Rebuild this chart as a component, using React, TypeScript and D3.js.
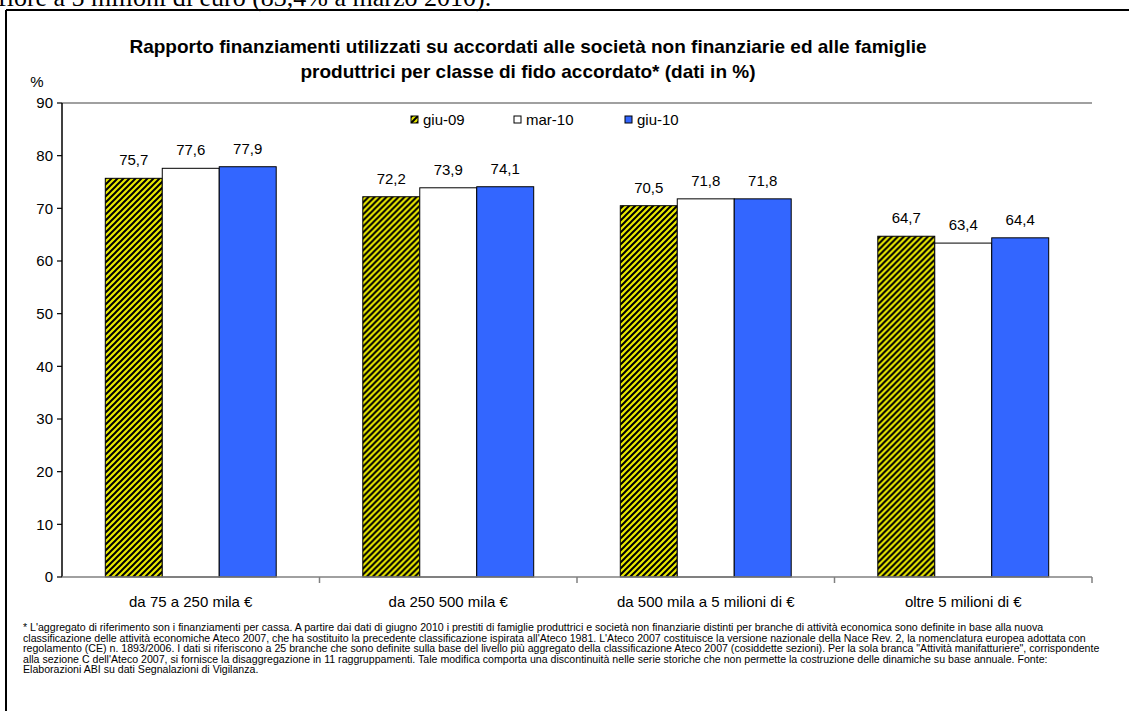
import React from "react";
import * as d3 from "d3";

const categories = [
  "da 75 a 250 mila €",
  "da 250 500 mila €",
  "da 500 mila a 5 milioni di €",
  "oltre 5 milioni di €",
];
const seriesNames = ["giu-09", "mar-10", "giu-10"];
const giu09 = [75.7, 72.2, 70.5, 64.7];
const mar10 = [77.6, 73.9, 71.8, 63.4];
const giu10 = [77.9, 74.1, 71.8, 64.4];
const yTicks = [0, 10, 20, 30, 40, 50, 60, 70, 80, 90];

const titleLines = [
  "Rapporto finanziamenti utilizzati su accordati alle società non finanziarie ed alle famiglie",
  "produttrici per classe di fido accordato* (dati in %)",
];
const topText = "fiore a 5 milioni di euro (83,4% a marzo 2010).";
const footnote = [
  "* L'aggregato di riferimento son i finanziamenti per cassa. A partire dai dati di giugno 2010 i prestiti di famiglie produttrici e società non finanziarie distinti per branche di attività economica sono definite in base alla nuova",
  "classificazione delle attività economiche Ateco 2007, che ha sostituito la precedente classificazione ispirata all'Ateco 1981. L'Ateco 2007 costituisce la versione nazionale della Nace Rev. 2, la nomenclatura europea adottata con",
  "regolamento (CE) n. 1893/2006. I dati si riferiscono a 25 branche che sono definite sulla base del livello più aggregato della classificazione Ateco 2007 (cosiddette sezioni). Per la sola branca \"Attività manifatturiere\", corrispondente",
  "alla sezione C dell'Ateco 2007, si fornisce la disaggregazione in 11 raggruppamenti. Tale modifica comporta una discontinuità nelle serie storiche che non permette la costruzione delle dinamiche su base annuale. Fonte:",
  "Elaborazioni ABI su dati Segnalazioni di Vigilanza.",
];

const seriesValues = [giu09, mar10, giu10];
const fills = ["url(#hatch)", "#ffffff", "#3366ff"];

const W = 1129;
const H = 711;
const plotLeft = 62;
const plotRight = 1092;
const plotTop = 103;
const plotBottom = 577;
const font = "'Liberation Sans', Arial, sans-serif";

export default function App() {
  const x = d3.scaleBand<string>().domain(categories).range([plotLeft, plotRight]);
  const xs = d3
    .scaleBand<string>()
    .domain(seriesNames)
    .range([0, x.bandwidth()])
    .paddingInner(0)
    .paddingOuter(0.76);
  const y = d3.scaleLinear().domain([0, 90]).range([plotBottom, plotTop]);
  const fmt = (v: number) => d3.format(".1f")(v).replace(".", ",");

  const legendX = [411, 514, 625];

  return (
    <svg
      width={W}
      height={H}
      style={{ position: "absolute", left: 0, top: 0, background: "#fff" }}
      fontFamily={font}
    >
      <defs>
        <pattern id="hatch" patternUnits="userSpaceOnUse" width={6} height={6}>
          <rect width={6} height={6} fill="#e8e800" />
          <path
            d="M-1.5,1.5 L1.5,-1.5 M0,6 L6,0 M4.5,7.5 L7.5,4.5"
            stroke="#000"
            strokeWidth={2}
          />
        </pattern>
      </defs>
      <rect width={W} height={H} fill="#fff" />

      {/* clipped text from the document above */}
      <text
        x={-2}
        y={6}
        fontFamily="'Liberation Serif', 'Times New Roman', serif"
        fontSize={26}
        fill="#000"
      >
        {topText}
      </text>

      {/* outer frame */}
      <line x1={6} y1={10} x2={W} y2={10} stroke="#000" strokeWidth={2} />
      <line x1={6} y1={10} x2={6} y2={H} stroke="#000" strokeWidth={2} />

      {/* title */}
      {titleLines.map((t, i) => (
        <text
          key={i}
          x={528}
          y={53 + i * 25}
          textAnchor="middle"
          fontWeight="bold"
          fontSize={19}
          fill="#000"
        >
          {t}
        </text>
      ))}

      {/* % unit */}
      <text x={37} y={87} textAnchor="middle" fontSize={15}>
        %
      </text>

      {/* top gridline */}
      <line x1={plotLeft} y1={y(90)} x2={plotRight} y2={y(90)} stroke="#808080" strokeWidth={1.5} />

      {/* bars */}
      {categories.map((c, ci) => (
        <g key={c} transform={`translate(${x(c)},0)`}>
          {seriesNames.map((s, si) => {
            const v = seriesValues[si][ci];
            const bx = xs(s) as number;
            return (
              <g key={s}>
                <rect
                  x={bx}
                  y={y(v)}
                  width={xs.bandwidth()}
                  height={y(0) - y(v)}
                  fill={fills[si]}
                  stroke="#000"
                  strokeWidth={1}
                />
                <text
                  x={bx + xs.bandwidth() / 2}
                  y={y(v) - 13}
                  textAnchor="middle"
                  fontSize={15}
                  fill="#000"
                >
                  {fmt(v)}
                </text>
              </g>
            );
          })}
        </g>
      ))}

      {/* y axis */}
      <line x1={plotLeft} y1={plotTop} x2={plotLeft} y2={plotBottom} stroke="#000" strokeWidth={1.5} />
      {yTicks.map((t) => (
        <g key={t}>
          <line x1={plotLeft - 5} y1={y(t)} x2={plotLeft} y2={y(t)} stroke="#000" strokeWidth={1.2} />
          <text x={plotLeft - 9} y={y(t)} dy="0.35em" textAnchor="end" fontSize={15}>
            {t}
          </text>
        </g>
      ))}

      {/* x axis */}
      <line x1={plotLeft} y1={plotBottom} x2={plotRight} y2={plotBottom} stroke="#808080" strokeWidth={1.5} />
      {categories.map((c) => (
        <line
          key={c + "t"}
          x1={(x(c) as number) + x.bandwidth()}
          y1={plotBottom}
          x2={(x(c) as number) + x.bandwidth()}
          y2={plotBottom + 6}
          stroke="#808080"
          strokeWidth={1.5}
        />
      ))}
      {categories.map((c) => (
        <text
          key={c + "l"}
          x={(x(c) as number) + x.bandwidth() / 2}
          y={607}
          textAnchor="middle"
          fontSize={15}
        >
          {c}
        </text>
      ))}

      {/* legend */}
      {seriesNames.map((s, i) => (
        <g key={s}>
          <rect
            x={legendX[i]}
            y={116}
            width={7}
            height={7}
            fill={fills[i]}
            stroke="#000"
            strokeWidth={1}
          />
          <text x={legendX[i] + 12} y={125} fontSize={15}>
            {s}
          </text>
        </g>
      ))}

      {/* footnote */}
      {footnote.map((t, i) => (
        <text key={i} x={23} y={631 + i * 10.6} fontSize={10.6} fill="#000">
          {t}
        </text>
      ))}
    </svg>
  );
}
